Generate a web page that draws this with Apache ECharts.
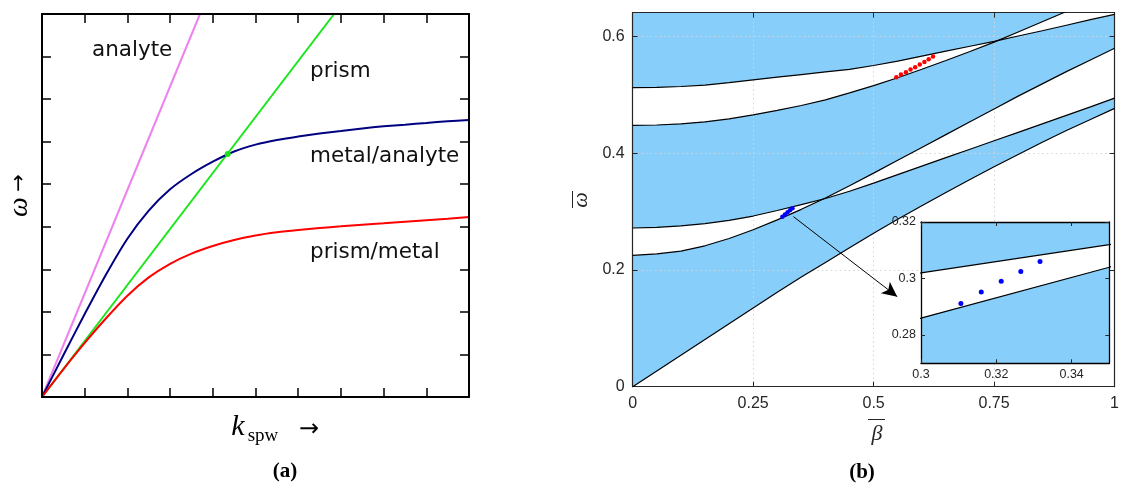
<!DOCTYPE html>
<html><head><meta charset="utf-8">
<script src="https://cdn.jsdelivr.net/npm/echarts@6/dist/echarts.min.js"></script>
<style>html,body{margin:0;padding:0;background:#fff}#c{width:1122px;height:486px}</style>
</head><body><div id="c"></div>
<script>
// ---------- Panel (a): dispersion sketch ----------
const kGrid   = [0,0.5,1,1.5,2,2.5,3,3.5,4,4.5,5,5.5,6,6.5,7,7.5,8,8.5,9,9.5,10];
const metalAnalyte = [0,0.98,1.95,2.88,3.72,4.38,4.88,5.24,5.53,5.77,5.93,6.04,6.12,6.19,6.25,6.31,6.36,6.40,6.44,6.48,6.51];
const prismMetal   = [0,0.65,1.27,1.85,2.38,2.81,3.13,3.37,3.55,3.69,3.795,3.87,3.925,3.97,4.01,4.05,4.085,4.12,4.155,4.19,4.23];
const analyteLine  = [[0, 0], [3.7, 9]];
const prismLine    = [[0, 0], [6.84, 9]];
const matchPoint   = [[4.35, 5.71]];
const labelsA = ['analyte', 'prism', 'metal/analyte', 'prism/metal'];

// ---------- Panel (b): band diagram ----------
const betaGrid = [0,0.05,0.1,0.15,0.2,0.25,0.3,0.35,0.4,0.45,0.5,0.55,0.6,0.65,0.7,0.75,0.8,0.85,0.9,0.95,1];
const curveL  = [0,0.027,0.054,0.081,0.108,0.135,0.162,0.188,0.213,0.238,0.263,0.287,0.310,0.333,0.355,0.377,0.398,0.419,0.439,0.458,0.477];
const curveB1 = [0.225,0.2275,0.2325,0.2415,0.254,0.269,0.286,0.304,0.3235,0.3445,0.366,0.388,0.410,0.432,0.454,0.476,0.498,0.519,0.540,0.560,0.580];
const curveB2 = [0.272,0.273,0.2755,0.2795,0.285,0.2925,0.302,0.312,0.3225,0.335,0.349,0.3635,0.378,0.3925,0.407,0.4215,0.436,0.4505,0.465,0.4795,0.4945];
const curveC  = [0.448,0.4485,0.4505,0.454,0.459,0.466,0.4735,0.482,0.4915,0.5035,0.516,0.5295,0.544,0.559,0.5745,0.5905,0.608,0.6255,0.643,0.661,0.679];
const curveA  = [0.5126,0.513,0.5145,0.517,0.521,0.526,0.5305,0.535,0.5395,0.544,0.5505,0.558,0.5665,0.575,0.5835,0.592,0.601,0.610,0.6195,0.629,0.638];
const blueDots = [[0.3106,0.2912],[0.3160,0.2952],[0.3213,0.2990],[0.3265,0.3025],[0.3316,0.3060]];
const redDots  = [[0.5472,0.5304],[0.5567,0.5349],[0.5670,0.5389],[0.5766,0.5435],[0.5862,0.5475],[0.5958,0.5521],[0.6054,0.5566],[0.6143,0.5612],[0.6232,0.5658]];
const arrowFrom = [0.3335, 0.2915];
const arrowTo   = [0.549, 0.1543];
const xTicksB = ['0','0.25','0.5','0.75','1'];
const yTicksB = ['0','0.2','0.4','0.6'];
const insetXTicks = [0.3, 0.32, 0.34];
const insetYTicks = [0.28, 0.3, 0.32];

const B_YMAX = 0.641;
const INSET = {x:[0.3,0.35], y:[0.27,0.32]};

const pairs = (xs, ys) => xs.map((x, i) => [x, ys[i]]);
const FILL = '#87cefa';

function polySeries(ptsFn, color, xi, yi, z) {
  return {
    type: 'custom', xAxisIndex: xi, yAxisIndex: yi, z: z, clip: true, silent: true,
    data: [[0, 0]],
    renderItem: function (params, api) {
      const pts = ptsFn().map(p => api.coord(p));
      return {type: 'polygon', shape: {points: pts}, style: {fill: color, stroke: null}};
    }
  };
}
function gapPts(upper, lower) {
  return () => pairs(betaGrid, upper).concat(pairs(betaGrid, lower).reverse());
}
function rectPts(xr, yr) {
  return () => [[xr[0], yr[0]], [xr[1], yr[0]], [xr[1], yr[1]], [xr[0], yr[1]]];
}
function lightGapPts() {
  return pairs(betaGrid, curveL).concat([[1, 0], [0, 0]]);
}
function blackLine(ys, xi, yi, z, w) {
  return {type: 'line', xAxisIndex: xi, yAxisIndex: yi, z: z, data: pairs(betaGrid, ys),
    showSymbol: false, symbol: 'none', clip: true, silent: true,
    lineStyle: {color: '#000', width: w}};
}

const tickFont = {fontFamily: 'Liberation Sans, Arial, sans-serif', fontSize: 16, color: '#262626'};
const insetFont = {fontFamily: 'Liberation Sans, Arial, sans-serif', fontSize: 12.5, color: '#262626'};

function axisA(extra) {
  return Object.assign({
    type: 'value', gridIndex: 0, z: 3,
    axisLine: {show: true, onZero: false, lineStyle: {color: '#000', width: 2}},
    axisTick: {show: true, inside: true, length: 9, lineStyle: {color: '#000', width: 1.5}},
    axisLabel: {show: false}, splitLine: {show: false}
  }, extra);
}
function axisB(extra, labels) {
  return Object.assign({
    type: 'value', gridIndex: 1, z: 3,
    axisLine: {show: true, onZero: false, lineStyle: {color: '#262626', width: 1.2}},
    axisTick: {show: true, inside: true, length: 5, lineStyle: {color: '#262626', width: 1}},
    axisLabel: labels ? Object.assign({show: true, margin: 8, showMaxLabel: false}, tickFont) : {show: false},
    splitLine: {show: false}
  }, extra);
}
function axisI(extra, labels, vals) {
  return Object.assign({
    type: 'value', gridIndex: 2, z: 10,
    axisLine: {show: true, onZero: false, lineStyle: {color: '#000', width: 1.3}},
    axisTick: {show: true, inside: true, length: 4, customValues: vals, lineStyle: {color: '#262626', width: 1}},
    axisLabel: labels ? Object.assign({show: true, margin: 5, customValues: vals}, insetFont) : {show: false},
    splitLine: {show: false}
  }, extra);
}
const dotted = {show: true, lineStyle: {color: '#d4d4d4', width: 1, type: [1.5, 3]}};

const chart = echarts.init(document.getElementById('c'), null, {renderer: 'canvas'});
const serif = 'Liberation Serif, DejaVu Serif, serif';
const labelFontA = {fontFamily: 'DejaVu Sans, sans-serif', fontSize: 21.5, fill: '#111'};
const txt = (x, y, text, st, extra) => Object.assign({type: 'text', x: x, y: y, z: 20,
  style: Object.assign({text: text, align: 'center', verticalAlign: 'middle'}, st)}, extra || {});

chart.setOption({
  animation: false,
  backgroundColor: '#fff',
  grid: [
    {left: 42, top: 14, width: 427, height: 383},
    {left: 632.7, top: 12.7, width: 486.6, height: 374},
    {left: 921, top: 222, width: 188.3, height: 141.3}
  ],
  xAxis: [
    axisA({min: 0, max: 10, interval: 1, position: 'bottom'}),
    axisA({min: 0, max: 10, interval: 1, position: 'top'}),
    axisB({min: 0, max: 1, interval: 0.25, position: 'bottom', splitLine: dotted,
           axisLabel: Object.assign({show: true, margin: 9, formatter: v => xTicksB[Math.round(v / 0.25)] || ''}, tickFont)}, true),
    axisB({min: 0, max: 1, interval: 0.25, position: 'top'}, false),
    axisI({min: INSET.x[0], max: INSET.x[1], position: 'bottom'}, true, insetXTicks),
    axisI({min: INSET.x[0], max: INSET.x[1], position: 'top'}, false, insetXTicks)
  ],
  yAxis: [
    axisA({min: 0, max: 9, interval: 1, position: 'left'}),
    axisA({min: 0, max: 9, interval: 1, position: 'right'}),
    axisB({min: 0, max: B_YMAX, interval: 0.2, position: 'left', splitLine: dotted,
           axisLabel: Object.assign({show: true, margin: 8, showMaxLabel: false,
             formatter: v => (Math.abs(v / 0.2 - Math.round(v / 0.2)) < 1e-6 ? (yTicksB[Math.round(v / 0.2)] || '') : '')}, tickFont)}, true),
    axisB({min: 0, max: B_YMAX, interval: 0.2, position: 'right'}, false),
    axisI({min: INSET.y[0], max: INSET.y[1], position: 'left'}, true, insetYTicks),
    axisI({min: INSET.y[0], max: INSET.y[1], position: 'right'}, false, insetYTicks)
  ],
  series: [
    // Panel (a)
    {type: 'line', xAxisIndex: 0, yAxisIndex: 0, z: 2, data: analyteLine, symbol: 'none', clip: true,
     lineStyle: {color: '#ee82ee', width: 2}},
    {type: 'line', xAxisIndex: 0, yAxisIndex: 0, z: 2, data: prismLine, symbol: 'none', clip: true,
     lineStyle: {color: '#19e619', width: 2}},
    {type: 'line', xAxisIndex: 0, yAxisIndex: 0, z: 2, data: pairs(kGrid, metalAnalyte), symbol: 'none', smooth: 0.3,
     clip: true, lineStyle: {color: '#000080', width: 2}},
    {type: 'line', xAxisIndex: 0, yAxisIndex: 0, z: 2, data: pairs(kGrid, prismMetal), symbol: 'none', smooth: 0.3,
     clip: true, lineStyle: {color: '#ff0000', width: 2}},
    {type: 'scatter', xAxisIndex: 0, yAxisIndex: 0, z: 2.5, data: matchPoint, symbolSize: 6,
     itemStyle: {color: '#19e619', opacity: 1}},
    // Panel (b) main
    polySeries(rectPts([0, 1], [0, B_YMAX]), FILL, 2, 2, 1),
    polySeries(lightGapPts, '#fff', 2, 2, 2),
    polySeries(gapPts(curveB2, curveB1), '#fff', 2, 2, 2),
    polySeries(gapPts(curveA, curveC), '#fff', 2, 2, 2),
    blackLine(curveL, 2, 2, 4, 1.2),
    blackLine(curveB1, 2, 2, 4, 1.2),
    blackLine(curveB2, 2, 2, 4, 1.2),
    blackLine(curveC, 2, 2, 4, 1.2),
    blackLine(curveA, 2, 2, 4, 1.2),
    {type: 'scatter', xAxisIndex: 2, yAxisIndex: 2, z: 5, data: blueDots, symbolSize: 4.5,
     itemStyle: {color: '#0000ff', opacity: 1}, silent: true,
     markLine: {silent: true, symbol: ['none', 'arrow'], symbolSize: [11, 15], z: 5,
       label: {show: false}, lineStyle: {color: '#000', width: 1, type: 'solid', opacity: 1},
       data: [[{coord: arrowFrom}, {coord: arrowTo}]]}},
    {type: 'scatter', xAxisIndex: 2, yAxisIndex: 2, z: 5, data: redDots, symbolSize: 4.5,
     itemStyle: {color: '#ff0000', opacity: 1}, silent: true},
    // Inset
    polySeries(rectPts(INSET.x, INSET.y), FILL, 4, 4, 6),
    polySeries(gapPts(curveB2, curveB1), '#fff', 4, 4, 7),
    blackLine(curveB1, 4, 4, 8, 1.2),
    blackLine(curveB2, 4, 4, 8, 1.2),
    {type: 'scatter', xAxisIndex: 4, yAxisIndex: 4, z: 9, data: blueDots, symbolSize: 5,
     itemStyle: {color: '#0000ff', opacity: 1}, silent: true}
  ],
  graphic: [
    txt(92, 50, labelsA[0], Object.assign({align: 'left'}, labelFontA)),
    txt(310, 71, labelsA[1], Object.assign({align: 'left'}, labelFontA)),
    txt(310, 156, labelsA[2], Object.assign({align: 'left'}, labelFontA)),
    txt(310, 252, labelsA[3], Object.assign({align: 'left'}, labelFontA)),
    // y label panel (a): omega with up arrow
    txt(20, 207, 'ω', {fontFamily: serif, fontStyle: 'italic', fontSize: 28, fill: '#000'}, {rotation: Math.PI / 2}),
    txt(20, 183, '→', {fontFamily: 'DejaVu Sans, sans-serif', fontSize: 21, fill: '#000'}, {rotation: Math.PI / 2}),
    // x label panel (a)
    txt(238, 427, 'k', {fontFamily: serif, fontStyle: 'italic', fontSize: 30, fill: '#000'}),
    txt(263, 436, 'spw', {fontFamily: serif, fontSize: 19, fill: '#000'}),
    txt(309, 430, '→', {fontFamily: 'DejaVu Sans, sans-serif', fontSize: 24, fill: '#000'}),
    txt(285, 472, '(a)', {fontFamily: serif, fontWeight: 'bold', fontSize: 21, fill: '#000'}),
    // panel (b) labels
    txt(877, 434, 'β', {fontFamily: serif, fontStyle: 'italic', fontSize: 22, fill: '#262626'}),
    {type: 'line', z: 20, shape: {x1: 868, y1: 419.5, x2: 885, y2: 419.5}, style: {stroke: '#262626', lineWidth: 1}},
    txt(581, 200, 'ω', {fontFamily: serif, fontStyle: 'italic', fontSize: 22, fill: '#262626'}, {rotation: Math.PI / 2}),
    {type: 'line', z: 20, shape: {x1: 572.5, y1: 191, x2: 572.5, y2: 208}, style: {stroke: '#262626', lineWidth: 1}},
    txt(862, 473, '(b)', {fontFamily: serif, fontWeight: 'bold', fontSize: 21, fill: '#000'})
  ]
});
</script>
</body></html>
